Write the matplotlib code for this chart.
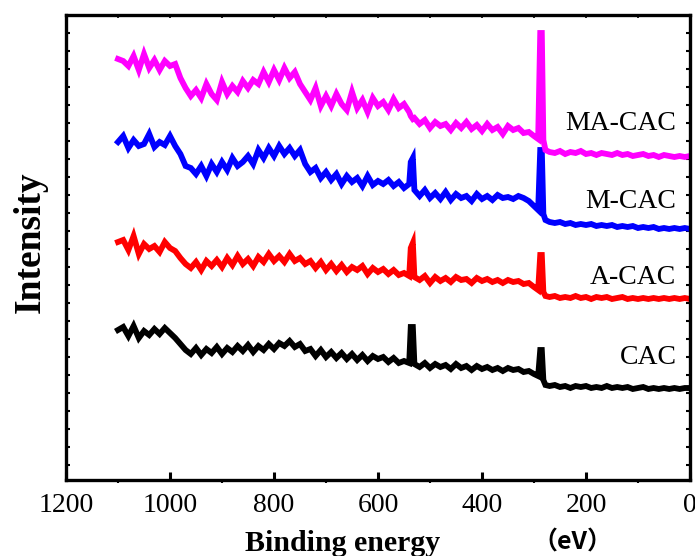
import matplotlib
matplotlib.use("Agg")
import matplotlib.pyplot as plt
import numpy as np

# Binding energy grid (eV)
energy = [1100, 1090, 1080, 1070, 1060, 1050, 1040, 1030, 1020, 1010,
          1000, 990, 980, 970, 960, 950, 940, 930, 920, 910,
          900, 890, 880, 870, 860, 850, 840, 830, 820, 810,
          800, 790, 780, 770, 760, 750, 740, 730, 720, 710,
          700, 690, 680, 670, 660, 650, 640, 630, 620, 610,
          600, 590, 580, 570, 560, 550, 540, 537, 533,
          530, 520, 510, 500, 490, 480, 470, 460, 450, 440,
          430, 420, 410, 400, 390, 380, 370, 360, 350, 340,
          330, 320, 310, 300, 292, 288, 285, 282, 278,
          270, 260, 250, 240, 230, 220, 210, 200, 190, 180,
          170, 160, 150, 140, 130, 120, 110, 100, 90, 80,
          70, 60, 50, 40, 30, 20, 10, 0]

ma_cac = [421, 419, 414, 424, 410, 426, 412, 420, 410, 419,
          414, 416, 402, 392, 384, 390, 382, 396, 386, 380,
          398, 386, 394, 388, 399, 392, 400, 396, 408, 398,
          410, 400, 412, 402, 408, 396, 388, 380, 392, 374,
          384, 374, 386, 376, 370, 388, 372, 380, 368, 382,
          374, 378, 370, 381, 372, 376, 368, 364, 361,
          362, 356, 360, 352, 358, 354, 356, 350, 357, 352,
          358, 351, 355, 349, 356, 350, 353, 346, 354, 350,
          352, 347, 348, 344, 341, 447, 447, 340, 330,
          328, 327, 329, 326, 328, 327, 329, 326, 327, 325,
          327, 326, 325, 327, 325, 326, 324, 325, 326, 324,
          325, 323, 325, 324, 323, 324, 323, 324]

m_cac = [338, 344, 332, 340, 334, 336, 346, 333, 338, 335,
         344, 334, 326, 314, 312, 306, 314, 304, 316, 308,
         318, 310, 322, 314, 318, 324, 316, 330, 322, 332,
         324, 334, 326, 332, 324, 330, 316, 308, 312, 302,
         308, 300, 306, 296, 304, 298, 302, 294, 304, 295,
         299, 296, 300, 294, 298, 292, 296, 318, 322,
         290, 284, 290, 282, 287, 281, 288, 280, 286, 282,
         284, 279, 286, 281, 284, 280, 285, 282, 283, 281,
         284, 282, 279, 274, 270, 330, 330, 266, 260,
         258, 257, 258, 256, 257, 255, 256, 255, 256, 254,
         255, 254, 255, 253, 254, 253, 254, 252, 253, 252,
         253, 251, 252, 251, 252, 251, 252, 251]

a_cac = [238, 240, 230, 244, 226, 236, 231, 234, 228, 238,
         232, 229, 222, 216, 212, 218, 210, 219, 214, 220,
         213, 222, 215, 224, 216, 221, 214, 223, 218, 226,
         219, 224, 218, 226, 219, 222, 216, 219, 212, 218,
         210, 216, 209, 215, 208, 213, 210, 214, 206, 212,
         208, 211, 206, 210, 205, 207, 204, 232, 237,
         203, 200, 204, 197, 203, 199, 202, 198, 203, 200,
         201, 197, 202, 199, 201, 198, 200, 197, 200, 198,
         199, 196, 197, 193, 190, 225, 225, 188, 184,
         183, 184, 182, 183, 182, 184, 182, 183, 181, 183,
         182, 183, 181, 182, 183, 181, 182, 181, 182, 181,
         182, 181, 182, 181, 182, 181, 182, 181]

cac = [150, 153, 144, 154, 142, 149, 145, 151, 146, 152,
       147, 142, 136, 130, 126, 132, 125, 131, 127, 133,
       126, 132, 128, 134, 129, 135, 128, 134, 130, 136,
       131, 137, 134, 139, 133, 136, 129, 131, 124, 130,
       123, 128, 122, 127, 121, 126, 120, 125, 119, 124,
       121, 123, 118, 122, 117, 119, 117, 153, 153,
       116, 113, 117, 112, 116, 113, 115, 111, 116, 112,
       114, 110, 114, 111, 113, 110, 112, 109, 112, 110,
       111, 108, 109, 106, 104, 130, 130, 100, 95,
       94, 95, 93, 94, 92, 94, 93, 94, 92, 93,
       92, 94, 92, 93, 92, 93, 91, 92, 93, 91,
       92, 91, 92, 91, 92, 91, 92, 92]

series = [("CAC", cac, "#000000"),
          ("A-CAC", a_cac, "#ff0000"),
          ("M-CAC", m_cac, "#0000ff"),
          ("MA-CAC", ma_cac, "#ff00ff")]

label_pos = {"MA-CAC": 357, "M-CAC": 278, "A-CAC": 203, "CAC": 122}

serif = "Liberation Serif"

fig = plt.figure(figsize=(6.95, 5.56), dpi=100)
ax = fig.add_axes([66 / 695, 76 / 556, 624 / 695, 465 / 556])

for name, vals, col in series:
    ax.plot(energy, vals, color=col, lw=4.2, solid_joinstyle="miter")
    ax.text(26, label_pos[name], name, ha="right", va="center",
            fontsize=20, family=serif, color="black")

ax.set_xlim(1200, 0)
ax.set_ylim(0, 465)

ax.set_xticks([1200, 1000, 800, 600, 400, 200, 0])
ax.set_xticks([1100, 900, 700, 500, 300, 100], minor=True)
ax.set_xticklabels(["1200", "1000", "800", "600", "400", "200", "0"],
                   family=serif, fontsize=20)
ax.tick_params(axis="x", which="major", direction="in", length=6, width=2.2, pad=9)
ax.tick_params(axis="x", which="minor", direction="out", length=2, width=1.5)

ax.set_yticks(np.arange(15, 465, 18))
ax.set_yticklabels([])
ax.tick_params(axis="y", which="major", direction="in", length=3, width=1.5,
               left=True, right=True)

for sp in ax.spines.values():
    sp.set_linewidth(2.4)

top = ax.secondary_xaxis("top")
top.set_xticks([1100, 1000, 900, 800, 700, 600, 500, 400, 300, 200, 100])
top.set_xticklabels([])
top.tick_params(direction="in", length=2, width=1.2)
top.spines["top"].set_visible(False)

fig.text(30 / 695, 1 - 242 / 556, "Intensity", rotation=90, ha="center", va="center",
         fontsize=27, fontweight="bold", family=serif)
fig.text(343 / 695, 5 / 556, "Binding energy", ha="center", va="baseline",
         fontsize=21.5, fontweight="bold", family=serif)
fig.text(572 / 695, 1 - 543 / 556, "（eV）", ha="center", va="center",
         fontsize=18, fontweight="bold", family=["Noto Sans CJK TC", "DejaVu Sans"])

fig.savefig("out.png", dpi=100)
